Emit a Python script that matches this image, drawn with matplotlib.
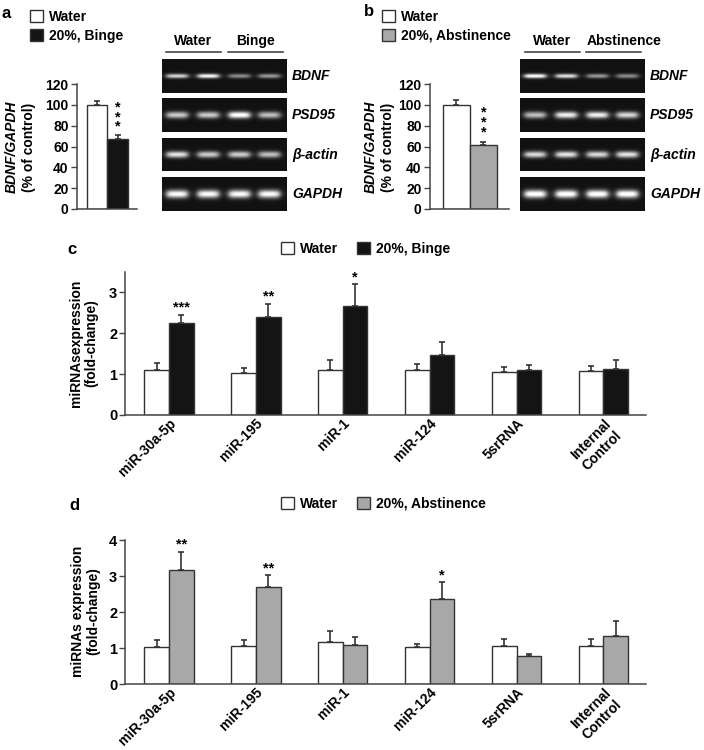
#importing libraries
import numpy as np
import matplotlib.pyplot as plt
from matplotlib.patches import Patch
from matplotlib.lines import Line2D

plt.rcParams['font.family'] = ['Liberation Sans', 'DejaVu Sans']
plt.rcParams['font.weight'] = 'bold'
plt.rcParams['font.size'] = 10

# panels a / b : BDNF/GAPDH (% of control)
a_vals = [100, 67.5]
a_err = [3.5, 3.2]
b_vals = [100, 61.5]
b_err = [4.5, 2.8]
a_legend = ['Water', '20%, Binge']
b_legend = ['Water', '20%, Abstinence']

# gels (band brightness per lane, 2 water + 2 treated)
genes = ['BDNF', 'PSD95', 'β-actin', 'GAPDH']
a_lanes = ['Water', 'Binge']
b_lanes = ['Water', 'Abstinence']
a_bands = [[0.80, 0.95, 0.50, 0.55],
           [0.75, 0.75, 1.00, 0.70],
           [0.85, 0.75, 0.75, 0.70],
           [0.95, 0.95, 0.95, 0.95]]
b_bands = [[1.00, 0.85, 0.55, 0.50],
           [0.70, 0.90, 0.90, 0.80],
           [0.80, 0.85, 0.80, 0.85],
           [1.00, 1.00, 1.00, 1.00]]
band_sigma = [0.13, 0.2, 0.2, 0.24]

# panels c / d : miRNA expression (fold-change)
mirnas = ['miR-30a-5p', 'miR-195', 'miR-1', 'miR-124', '5srRNA', 'Internal\nControl']
c_water = [1.11, 1.04, 1.11, 1.10, 1.05, 1.07]
c_water_err = [0.16, 0.12, 0.23, 0.14, 0.13, 0.13]
c_binge = [2.25, 2.40, 2.68, 1.46, 1.11, 1.13]
c_binge_err = [0.20, 0.32, 0.52, 0.33, 0.12, 0.22]
c_stars = ['***', '**', '*', '', '', '']
d_water = [1.04, 1.06, 1.18, 1.02, 1.06, 1.05]
d_water_err = [0.17, 0.17, 0.28, 0.08, 0.19, 0.20]
d_abst = [3.16, 2.69, 1.07, 2.37, 0.77, 1.34]
d_abst_err = [0.52, 0.33, 0.23, 0.46, 0.05, 0.41]
d_stars = ['**', '**', '', '*', '', '']

W, H = 704, 750
EDGE = '#333333'
BLACK = '#141414'
GREY = '#a8a8a8'

fig = plt.figure(figsize=(W / 100, H / 100), dpi=100)


def px_axes(l, t, r, b):
    # axes placed with pixel box (left, top, right, bottom)
    return fig.add_axes([l / W, 1 - b / H, (r - l) / W, (b - t) / H])


def ftext(x, y, s, **kw):
    return fig.text(x / W, 1 - y / H, s, **kw)


def fline(x0, x1, y):
    fig.add_artist(Line2D([x0 / W, x1 / W], [1 - y / H] * 2, color=EDGE, lw=1.1))


def style_axes(ax):
    for s in ['top', 'right']:
        ax.spines[s].set_visible(False)
    for s in ['left', 'bottom']:
        ax.spines[s].set_color('#444444')
        ax.spines[s].set_linewidth(1.1)
    ax.tick_params(axis='y', length=4, width=1, color='#444444', labelsize=10, pad=2)
    ax.tick_params(axis='x', length=0)


ekw = dict(ecolor=EDGE, elinewidth=1.2, capsize=2.5, capthick=1.2)


def small_bar(box, vals, err, color, stars_y, label_x):
    ax = px_axes(*box)
    ax.bar([0, 1], vals, 1.0, color=['white', color], edgecolor=EDGE, lw=1,
           yerr=[[0, 0], err], error_kw=ekw)
    ax.set_xlim(-0.98, 1.95)
    ax.set_ylim(0, 120)
    ax.set_yticks(range(0, 121, 20))
    ax.set_xticks([])
    style_axes(ax)
    ax.text(1, stars_y, '*\n*\n*', ha='center', va='center', fontsize=10.5, linespacing=0.6)
    ftext(label_x, 147, 'BDNF/GAPDH', rotation=90, style='italic', ha='center', va='center')
    ftext(label_x + 17, 147, '(% of control)', rotation=90, ha='center', va='center')
    return ax


def gel_panel(x0, x1, bands, lanes, label_x, heads, lines):
    rows = [(59, 93), (98, 132), (138, 171), (177, 211)]
    lane_pos = [0.12, 0.37, 0.62, 0.86]
    nx, ny = 250, 68
    xx = np.linspace(0, 1, nx)
    yy = np.linspace(-1, 1, ny)
    for (t, b), lev, sig, g in zip(rows, bands, band_sigma, genes):
        ax = px_axes(x0, t, x1, b)
        img = np.full((ny, nx), 0.07)
        for p, v in zip(lane_pos, lev):
            px = 1 / (1 + np.exp(-(xx - (p - 0.085)) / 0.014)) / (1 + np.exp((xx - (p + 0.085)) / 0.014))
            py = np.exp(-(yy / sig) ** 2)
            img += v * np.outer(py, px)
        ax.imshow(np.clip(img, 0, 1), cmap='gray', vmin=0, vmax=1, aspect='auto',
                  interpolation='bilinear')
        ax.axis('off')
        ftext(label_x, (t + b) / 2, g, style='italic', va='center', fontsize=10)
    for cx, name, (la, lb) in zip(heads, lanes, lines):
        ftext(cx, 41, name, ha='center', va='center', fontsize=10)
        fline(la, lb, 52)


def legend_at(ax, colors, labels, x, y, ncol=1, colsp=1.0):
    handles = [Patch(facecolor=c, edgecolor=EDGE, lw=1) for c in colors]
    ax.legend(handles, labels, loc='upper left', bbox_to_anchor=(x / W, 1 - y / H),
              bbox_transform=fig.transFigure, frameon=False, fontsize=10, ncol=ncol,
              handlelength=0.95, handleheight=0.95, handletextpad=0.45, labelspacing=0.35,
              columnspacing=colsp, borderpad=0, borderaxespad=0)


# ---- panel a ----
axa = small_bar((77, 84, 137, 209), a_vals, a_err, BLACK, 88, 12)
legend_at(axa, ['white', BLACK], a_legend, 30, 10)
gel_panel(162, 287, a_bands, a_lanes, 292, [193, 255], [(166, 221), (228, 283)])
ftext(6, 13, 'a', ha='center', va='center', fontsize=12)

# ---- panel b ----
axb = small_bar((430, 84, 509, 209), b_vals, b_err, GREY, 83, 371)
legend_at(axb, ['white', GREY], b_legend, 382, 10)
gel_panel(520, 645, b_bands, b_lanes, 650, [552, 624], [(525, 580), (586, 641)])
ftext(369, 11, 'b', ha='center', va='center', fontsize=12)


# ---- panels c / d ----
def mirna_panel(box, ylim, water, werr, treat, terr, color, stars, ylabel, lab_xy, leg_y, leg_labels):
    ax = px_axes(*box)
    x = np.arange(len(mirnas))
    w = 0.284
    n = len(mirnas)
    ax.bar(x - w / 2, water, w, color='white', edgecolor=EDGE, lw=1,
           yerr=[np.zeros(n), werr], error_kw=ekw)
    ax.bar(x + w / 2, treat, w, color=color, edgecolor=EDGE, lw=1,
           yerr=[np.zeros(n), terr], error_kw=ekw)
    for xi, v, e, s in zip(x, treat, terr, stars):
        if s:
            ax.annotate(s, (xi + w / 2, v + e), xytext=(0, 0), textcoords='offset points',
                        ha='center', va='bottom', fontsize=10.5)
    ax.set_ylim(0, ylim)
    ax.set_yticks(range(0, int(ylim) + 1))
    ax.set_xlim(-0.5, 5 + (646 - 603.5) / 86.9)
    ax.set_xticks(x)
    ax.set_xticklabels(mirnas, rotation=45, ha='right', rotation_mode='anchor',
                       fontsize=10, multialignment='center')
    style_axes(ax)
    ax.tick_params(axis='y', labelsize=10.5)
    ax.tick_params(axis='x', pad=1)
    ftext(lab_xy[0], lab_xy[1], ylabel, rotation=90, ha='center', va='center',
          multialignment='center', linespacing=1.1)
    legend_at(ax, ['white', color], leg_labels, 281, leg_y, ncol=2, colsp=1.3)
    return ax


axc = mirna_panel((125.5, 272, 646, 415), 3.5, c_water, c_water_err, c_binge, c_binge_err,
                  BLACK, c_stars, 'miRNAsexpression\n(fold-change)', (84, 343), 242, a_legend)
ftext(72, 249, 'c', ha='center', va='center', fontsize=12)

axd = mirna_panel((125.5, 540, 646, 684), 4, d_water, d_water_err, d_abst, d_abst_err,
                  GREY, d_stars, 'miRNAs expression\n(fold-change)', (86, 611), 497, b_legend)
ftext(74, 505, 'd', ha='center', va='center', fontsize=12)

plt.savefig('out.png', dpi=100)
